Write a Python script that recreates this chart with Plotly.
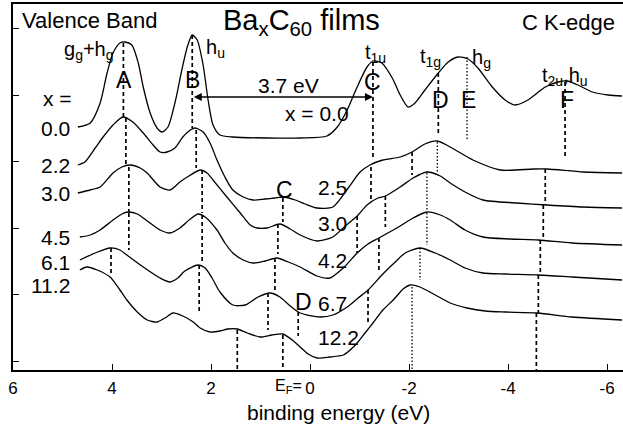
import plotly.graph_objects as go

# ---------------- data (binding energy in eV, intensity in arb. units incl. offset) -------------
be_0 = [4.69, 4.44, 4.24, 4.10, 3.98, 3.84, 3.74, 3.60, 3.47, 3.37, 3.23, 3.09, 2.99, 2.87, 2.73, 2.59,
        2.48, 2.38, 2.28, 2.16, 2.06, 1.96, 1.82, 1.56, 0.87, 0.20, -0.34, -0.55, -0.75, -0.95, -1.15,
        -1.27, -1.45, -1.66, -1.82, -1.98, -2.12, -2.32, -2.59, -2.79, -2.99, -3.19, -3.39, -3.68,
        -3.94, -4.14, -4.40, -4.75, -5.01, -5.19, -5.41, -5.70, -6.02, -6.30]
int_0 = [243, 247, 267, 297, 317, 327, 328, 325, 307, 283, 257, 242, 238, 243, 267, 300,
         323, 335, 330, 305, 270, 245, 235, 233, 232, 232, 234, 243, 260, 283, 303,
         309, 307, 292, 275, 263, 267, 280, 297, 308, 313, 311, 302, 283,
         270, 265, 270, 283, 288, 289, 285, 278, 275, 274]

be_1 = [4.69, 4.55, 4.34, 4.18, 3.98, 3.78, 3.58, 3.37, 3.17, 3.03, 2.89, 2.73, 2.57, 2.42, 2.32, 2.16,
        2.02, 1.88, 1.72, 1.56, 1.35, 1.15, 0.91, 0.71, 0.55, 0.30, 0.10, -0.14, -0.46, -0.77, -1.01,
        -1.21, -1.47, -1.82, -2.06, -2.32, -2.57, -2.83, -3.29, -3.84, -4.51, -4.79, -5.52, -6.30]
int_1 = [205, 208, 222, 233, 245, 253, 248, 237, 225, 218, 218, 222, 233, 240, 242, 238,
         227, 210, 193, 180, 173, 170, 171, 172, 173, 170, 166, 162, 163, 182, 198,
         205, 210, 213, 218, 226, 229, 223, 210, 200, 201, 201, 198, 197]

be_2 = [4.69, 4.44, 4.24, 3.98, 3.80, 3.64, 3.43, 3.29, 3.03, 2.83, 2.63, 2.48, 2.22, 2.08, 1.96, 1.68,
        1.41, 1.21, 1.07, 0.87, 0.61, 0.40, 0.20, -0.14, -0.46, -0.71, -0.95, -1.15, -1.37, -1.52,
        -1.82, -2.08, -2.36, -2.63, -2.83, -3.13, -3.49, -4.18, -4.79, -5.52, -6.30]
int_2 = [177, 180, 183, 197, 203, 205, 202, 197, 183, 180, 188, 193, 200, 197, 190, 173,
         157, 145, 142, 142, 146, 141, 135, 129, 133, 144, 154, 165, 172, 174,
         183, 192, 198, 194, 187, 178, 170, 167, 165, 163, 162]

be_3 = [4.65, 4.44, 4.24, 3.98, 3.80, 3.68, 3.49, 3.29, 3.03, 2.83, 2.63, 2.42, 2.26, 2.12, 1.88, 1.72,
        1.56, 1.35, 1.15, 0.91, 0.67, 0.44, 0.20, -0.14, -0.40, -0.67, -0.95, -1.17, -1.39, -1.82,
        -2.08, -2.36, -2.63, -2.83, -3.13, -3.49, -4.04, -4.61, -5.29, -6.30]
int_3 = [133, 135, 140, 150, 156, 158, 156, 149, 140, 137, 142, 151, 156, 153, 140, 127,
         117, 110, 107, 109, 112, 108, 103, 94, 92, 102, 117, 126, 132, 144,
         152, 158, 155, 150, 140, 133, 131, 130, 127, 125]

be_4 = [4.65, 4.34, 4.04, 3.84, 3.70, 3.37, 3.03, 2.83, 2.67, 2.53, 2.26, 2.12, 1.98, 1.82, 1.56, 1.31,
        1.05, 0.81, 0.61, 0.40, 0.20, -0.20, -0.46, -0.75, -0.97, -1.17, -1.47, -1.72, -1.92, -2.22,
        -2.53, -2.83, -3.13, -3.49, -3.94, -4.61, -5.29, -6.30]
int_4 = [110, 117, 122, 120, 115, 103, 92, 88, 92, 99, 105, 102, 92, 78, 65, 65,
         73, 77, 73, 64, 57, 53, 55, 63, 72, 80, 96, 108, 117, 122,
         117, 110, 102, 97, 96, 95, 93, 90]

be_5 = [4.65, 4.51, 4.30, 4.04, 3.84, 3.70, 3.49, 3.29, 3.09, 2.93, 2.77, 2.57, 2.36, 2.22, 2.02, 1.82,
        1.66, 1.47, 1.27, 1.01, 0.77, 0.55, 0.36, 0.20, 0.04, -0.14, -0.40, -0.67, -0.81, -0.95,
        -1.11, -1.27, -1.47, -1.68, -1.88, -2.02, -2.22, -2.53, -2.83, -3.17, -3.54, -3.94, -4.59,
        -5.29, -6.30]
int_5 = [100, 103, 100, 93, 80, 70, 58, 50, 48, 52, 57, 54, 48, 42, 38, 39,
         41, 41, 37, 33, 35, 36, 30, 23, 16, 12, 13, 15, 20, 27,
         37, 47, 60, 70, 81, 85, 83, 75, 67, 62, 59, 58, 57,
         53, 50]

curves_be = [be_0, be_1, be_2, be_3, be_4, be_5]
curves_int = [int_0, int_1, int_2, int_3, int_4, int_5]

# Ba concentrations x (valence band, C K-edge)
x_vb = ["0.0", "2.2", "3.0", "4.5", "6.1", "11.2"]
x_vb_int = [242, 205, 177, 133, 108, 85]
x_ck = ["x = 0.0", "2.5", "3.0", "4.2", "6.7", "12.2"]
x_ck_be = [-0.14, -0.46, -0.46, -0.46, -0.46, -0.57]
x_ck_int = [257, 183, 147, 110, 67, 33]

# peak-position marker segments: energy, top, bottom, style
mark_be = [3.77, 3.72, 3.66, 3.66, 4.02,
           2.38, 2.30, 2.18, 2.18, 2.24,
           0.55, 0.65, 0.71, 0.85, 0.55, 1.47,
           0.24,
           -1.27, -1.23, -0.95,
           -2.59, -2.06, -1.52, -1.39, -1.17,
           -5.15, -4.75, -4.71, -4.65, -4.61, -4.57,
           -3.17, -2.57, -2.36, -2.36, -2.22, -2.06]
mark_top = [327, 252, 203, 157, 122,
            335, 240, 200, 155, 105,
            172, 146, 112, 77, 35, 40,
            58,
            308, 203, 154,
            297, 218, 174, 132, 80,
            288, 201, 165, 130, 95, 57,
            313, 228, 197, 157, 122, 83]
mark_bot = [253, 205, 158, 120, 97,
            242, 202, 157, 107, 58,
            148, 116, 78, 40, 0, 0,
            34,
            213, 170, 117,
            237, 195, 143, 100, 47,
            213, 165, 130, 95, 57, 0,
            230, 198, 159, 125, 90, 0]
mark_style = ["dash"] * 31 + ["dot"] * 6

# peak letters
peak_txt = ["A", "B", "C", "D", "E", "F", "C", "D"]
peak_be = [3.76, 2.38, -1.27, -2.63, -3.19, -5.19, 0.51, 0.14]
peak_int = [290, 290, 288, 270, 270, 270, 180, 68]

# symmetry labels
sym_txt = ["g<sub>g</sub>+h<sub>g</sub>", "h<sub>u</sub>", "t<sub>1u</sub>", "t<sub>1g</sub>",
           "h<sub>g</sub>", "t<sub>2u</sub>,h<sub>u</sub>"]
sym_be = [4.46, 1.92, -1.33, -2.44, -3.47, -5.15]
sym_int = [320, 322, 317, 313, 312, 294]

# 3.7 eV gap arrow (B -> C)
gap_from, gap_to, gap_int = 2.38, -1.27, 273

tick_vals = [6, 4, 2, 0, -2, -4, -6]
tick_text = ["6", "4", "2", "0", "-2", "-4", "-6"]

FONT = "Liberation Sans, Arial, Helvetica, sans-serif"

fig = go.Figure()
for bx, iy in zip(curves_be, curves_int):
    fig.add_trace(go.Scatter(x=bx, y=iy, mode="lines",
                             line=dict(color="black", width=1.3, shape="spline", smoothing=0.7),
                             hoverinfo="skip", showlegend=False))

for style in ["dash", "dot"]:
    xs, ys = [], []
    for b, t, lo, s in zip(mark_be, mark_top, mark_bot, mark_style):
        if s == style:
            xs += [b, b, None]
            ys += [t, lo, None]
    fig.add_trace(go.Scatter(x=xs, y=ys, mode="lines",
                             line=dict(color="black", width=1.7 if style == "dash" else 1.3,
                                       dash="4px,3px" if style == "dash" else "1.5px,2px"),
                             hoverinfo="skip", showlegend=False))

ann = []
def txt(x, y, t, size=20, xa="center", ya="middle", yref="y"):
    ann.append(dict(x=x, y=y, xref="x", yref=yref, text=t, showarrow=False,
                    xanchor=xa, yanchor=ya, font=dict(size=size, color="black", family=FONT)))

txt(5.86, 350, "Valence Band", 22, "left")
txt(0.18, 348, "Ba<sub>x</sub>C<sub>60</sub> films", 29)
txt(-6.20, 348, "C K-edge", 22, "right")
txt(5.11, 272, "x =", 21)
for lab, yv in zip(x_vb, x_vb_int):
    txt(4.81, yv, lab, 21, "right")
for lab, bv, yv in zip(x_ck, x_ck_be, x_ck_int):
    txt(bv, yv, lab, 21)
for lab, bv, yv in zip(peak_txt, peak_be, peak_int):
    txt(bv, yv, lab, 23)
for lab, bv, yv in zip(sym_txt, sym_be, sym_int):
    txt(bv, yv, lab, 20)
txt(0.44, 285, "3.7 eV", 21)
# E_F marker in front of the 0 tick label, and the axis title (below the plot area)
txt(0.115, -0.044, "E<sub>F</sub>=", 16, "right", "middle", "paper")
txt(-0.57, -0.116, "binding energy (eV)", 21, "center", "middle", "paper")

ann.append(dict(x=gap_to, y=gap_int, ax=gap_from, ay=gap_int, xref="x", yref="y",
                axref="x", ayref="y", text="", showarrow=True, arrowhead=2, startarrowhead=2,
                arrowside="end+start", arrowwidth=1.6, arrowsize=1.0, arrowcolor="black"))

fig.update_layout(
    width=623, height=426,
    margin=dict(l=13, r=0, t=4, b=56),
    paper_bgcolor="white", plot_bgcolor="white",
    annotations=ann,
    font=dict(family=FONT, color="black"),
    xaxis=dict(range=[6.0, -6.32], tickmode="array", tickvals=tick_vals, ticktext=tick_text,
               ticks="inside", ticklen=6, tickwidth=1.3, tickcolor="black",
               showline=True, linecolor="black", linewidth=1.5, mirror=True,
               showgrid=False, zeroline=False, tickfont=dict(size=17, family=FONT),
               ticklabelstandoff=2),
    yaxis=dict(range=[0, 366], tickmode="array", tickvals=[9, 75.5, 142, 208.5, 275, 341.5],
               ticks="inside", ticklen=6, tickwidth=1.3, tickcolor="black", showticklabels=False,
               showline=True, linecolor="black", linewidth=1.5,
               showgrid=False, zeroline=False),
)

fig.write_html("out.html")
